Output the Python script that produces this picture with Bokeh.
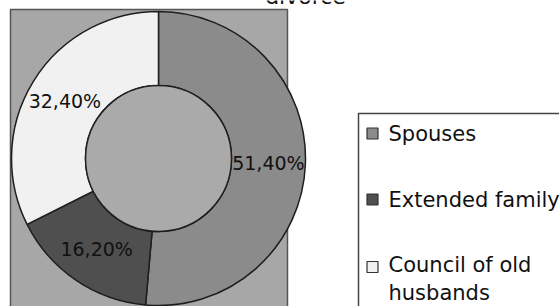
import numpy as np
from bokeh.plotting import figure
from bokeh.models import Range1d, ColumnDataSource
from bokeh.core.properties import value
from bokeh.embed import file_html
from bokeh.resources import INLINE

# ---- data ----
categories = ["Spouses", "Extended family", "Council of old husbands"]
legend_labels = ["Spouses", "Extended family", "Council of old\nhusbands"]
shares = [51.4, 16.2, 32.4]
pct_labels = ["51,40%", "16,20%", "32,40%"]
colors = ["#8b8b8b", "#4f4f4f", "#f1f1f1"]
title_text = "divorce"

FONT = value("DejaVu Sans")

p = figure(width=559, height=306, output_backend="svg", toolbar_location=None,
           x_range=Range1d(0, 559), y_range=Range1d(0, 306), min_border=0,
           background_fill_color="white", border_fill_color="white",
           outline_line_color=None)
p.axis.visible = False
p.grid.visible = False

# plot area background
p.quad(left=[10], right=[287], bottom=[-10], top=[297],
       fill_color="#a7a7a7", line_color="#555555", line_width=1.5)

cx, cy = 158, 148
r_in, r_out = 73, 147

frac = np.array(shares) / np.sum(shares)
cum = np.concatenate([[0], np.cumsum(frac)])
start = np.pi / 2 - 2 * np.pi * cum[:-1]
end = np.pi / 2 - 2 * np.pi * cum[1:]
mid = (start + end) / 2

src = ColumnDataSource(dict(cat=categories, start=start, end=end, color=colors))
p.annular_wedge(x=cx, y=cy, inner_radius=r_in, outer_radius=r_out,
                start_angle="start", end_angle="end", direction="clock",
                fill_color="color", line_color="#1e1e1e", line_width=1.5, source=src)

# inner hole
p.circle(x=[cx], y=[cy], radius=r_in, fill_color="#aaaaaa",
         line_color="#1e1e1e", line_width=1.5)

# percentage labels
r_lab = (r_in + r_out) / 2
p.text(x=cx + r_lab * np.cos(mid), y=cy + r_lab * np.sin(mid), text=pct_labels,
       text_font=FONT, text_font_size="19px", text_color="#111111",
       text_align="center", text_baseline="middle")

# title (cut at top edge, as in the reference)
p.text(x=[305], y=[310], text=[title_text], text_font=FONT, text_font_size="22px",
       text_color="#111111", text_align="center", text_baseline="alphabetic")

# legend box
p.quad(left=[358], right=[600], bottom=[-20], top=[193],
       fill_color="white", line_color="#444444", line_width=1.5)
leg_y = np.array([173, 107, 39.5])
p.scatter(x=[372] * len(categories), y=leg_y, marker="square", size=11,
          fill_color=colors, line_color="#333333", line_width=1.2)
lh = 1.15 * 21
nlines = np.array([lab.count("\n") + 1 for lab in legend_labels])
p.text(x=[388] * len(categories), y=leg_y - (nlines - 1) * lh / 2, text=legend_labels,
       text_font=FONT, text_font_size="21px", text_color="#111111",
       text_align="left", text_baseline="middle", text_line_height=1.15)

open("out.html", "w").write(file_html(p, INLINE))
